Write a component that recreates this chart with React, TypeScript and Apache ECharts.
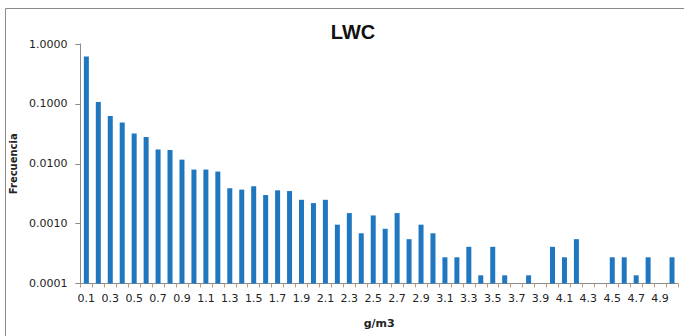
import React, { useEffect, useRef } from "react";
import * as echarts from "echarts";

const categories: string[] = [
  "0.1","0.2","0.3","0.4","0.5","0.6","0.7","0.8","0.9","1.0",
  "1.1","1.2","1.3","1.4","1.5","1.6","1.7","1.8","1.9","2.0",
  "2.1","2.2","2.3","2.4","2.5","2.6","2.7","2.8","2.9","3.0",
  "3.1","3.2","3.3","3.4","3.5","3.6","3.7","3.8","3.9","4.0",
  "4.1","4.2","4.3","4.4","4.5","4.6","4.7","4.8","4.9","5.0",
];

const frecuencia: (number | null)[] = [
  0.62, 0.107, 0.063, 0.049, 0.032, 0.028, 0.0173, 0.017, 0.0117, 0.0080,
  0.0080, 0.0074, 0.0039, 0.0037, 0.0042, 0.0030, 0.0036, 0.0035, 0.0025, 0.0022,
  0.0025, 0.00096, 0.0015, 0.00069, 0.00137, 0.00082, 0.0015, 0.00055, 0.00096, 0.00069,
  0.000274, 0.000274, 0.00041, 0.000137, 0.00041, 0.000137, null, 0.000137, null, 0.00041,
  0.000274, 0.00055, null, null, 0.000274, 0.000274, 0.000137, 0.000274, null, 0.000274,
];

const Y_MIN = 0.0001;
const Y_MAX = 1;
const BAR_COLOR = "#1f77c0";

const App: React.FC = () => {
  const ref = useRef<HTMLDivElement>(null);
  useEffect(() => {
    if (!ref.current) return;
    const chart = echarts.init(ref.current, undefined, { renderer: "svg" });
    const barData = frecuencia
      .map((v, i) => (v == null ? null : [i, v]))
      .filter((d) => d !== null);
    chart.setOption({
      animation: false,
      backgroundColor: "#ffffff",
      title: {
        text: "LWC",
        left: 348,
        top: 17,
        textAlign: "center",
        textStyle: { fontFamily: "Liberation Sans", fontWeight: "bold", fontSize: 20, color: "#111" },
      },
      graphic: [
        {
          type: "rect",
          shape: { x: 5.5, y: 8.5, width: 700, height: 360 },
          style: { fill: "none", stroke: "#8a8a8a", lineWidth: 1 },
          silent: true,
        },
      ],
      grid: { left: 77, right: 6, top: 44, bottom: 52.5 },
      xAxis: {
        type: "category",
        data: categories,
        name: "g/m3",
        nameLocation: "middle",
        nameGap: 34,
        nameTextStyle: { fontFamily: "DejaVu Sans", fontWeight: "bold", fontSize: 11, color: "#222" },
        axisLine: { lineStyle: { color: "#8c8c8c" } },
        axisTick: { show: true, interval: 0, length: 4, lineStyle: { color: "#c09a74" } },
        axisLabel: { interval: 1, fontFamily: "DejaVu Sans", fontSize: 11, color: "#222", margin: 9 },
      },
      yAxis: {
        type: "log",
        logBase: 10,
        min: Y_MIN,
        max: Y_MAX,
        name: "Frecuencia",
        nameLocation: "middle",
        nameGap: 57,
        nameTextStyle: { fontFamily: "DejaVu Sans", fontWeight: "bold", fontSize: 10, color: "#222" },
        splitLine: { show: false },
        axisLine: { show: true, lineStyle: { color: "#8c8c8c" } },
        axisTick: { show: true, length: 5, lineStyle: { color: "#8c8c8c" } },
        axisLabel: {
          fontFamily: "DejaVu Sans",
          fontSize: 11,
          color: "#222",
          margin: 13,
          formatter: (v: number) => v.toFixed(4),
        },
      },
      series: [
        {
          type: "custom",
          data: barData,
          encode: { x: 0, y: 1 },
          renderItem: (params: any, api: any) => {
            const idx = api.value(0);
            const val = api.value(1);
            const top = api.coord([idx, val]);
            const bottom = api.coord([idx, Y_MIN]);
            const w = 5;
            return {
              type: "rect",
              shape: { x: top[0] - w / 2, y: top[1], width: w, height: bottom[1] - top[1] },
              style: { fill: BAR_COLOR },
            };
          },
        },
      ],
    });
    return () => chart.dispose();
  }, []);
  return (
    <div
      ref={ref}
      style={{ position: "fixed", left: 0, top: 0, width: 684, height: 336 }}
    />
  );
};

export default App;
